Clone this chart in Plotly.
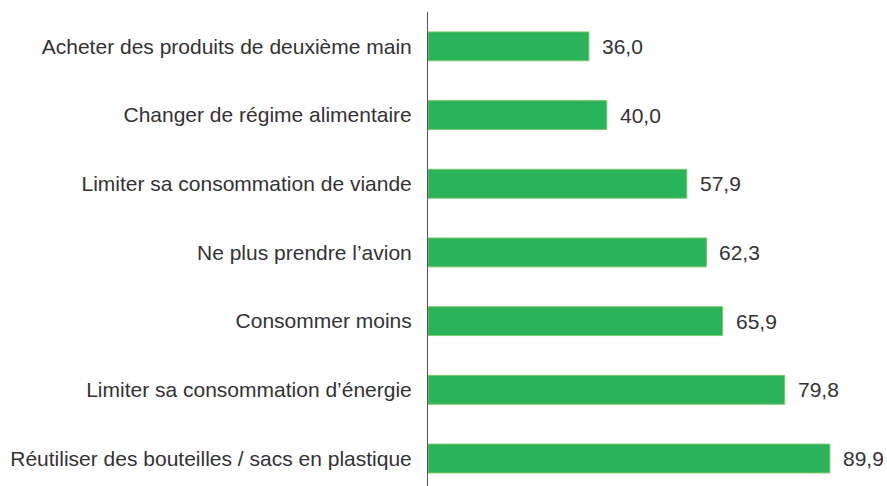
import plotly.graph_objects as go

categories = [
    "Acheter des produits de deuxième main",
    "Changer de régime alimentaire",
    "Limiter sa consommation de viande",
    "Ne plus prendre l’avion",
    "Consommer moins",
    "Limiter sa consommation d’énergie",
    "Réutiliser des bouteilles / sacs en plastique",
]
values = [36.0, 40.0, 57.9, 62.3, 65.9, 79.8, 89.9]
value_labels = [f"{v:.1f}".replace(".", ",") for v in values]

FONT = "Liberation Sans, Arial, sans-serif"

fig = go.Figure()
fig.add_trace(go.Bar(
    x=values, y=categories, orientation="h",
    marker=dict(color="#2bb35c", line=dict(color="#7cc868", width=1)),
    width=0.42, hoverinfo="skip",
))
for c, v, t in zip(categories, values, value_labels):
    fig.add_annotation(x=v, y=c, text=t, showarrow=False, xanchor="left",
                       xshift=11, font=dict(size=21, color="#333333", family=FONT))

fig.update_layout(
    width=887, height=486,
    margin=dict(l=428, r=12, t=12, b=0),
    plot_bgcolor="white", paper_bgcolor="white",
    showlegend=False,
    font=dict(family=FONT, size=21, color="#333333"),
    xaxis=dict(range=[0, 100], visible=False, showgrid=False, zeroline=False),
    yaxis=dict(type="category", range=[6.4, -0.5], showline=True, linecolor="#555555",
               linewidth=1, ticks="", ticklabelstandoff=11, showgrid=False,
               tickfont=dict(size=21, color="#333333", family=FONT)),
)
fig.write_html(
    "out.html",
    config={"displayModeBar": False},
    post_script="document.body.style.margin='0';document.body.style.overflow='hidden';",
)
